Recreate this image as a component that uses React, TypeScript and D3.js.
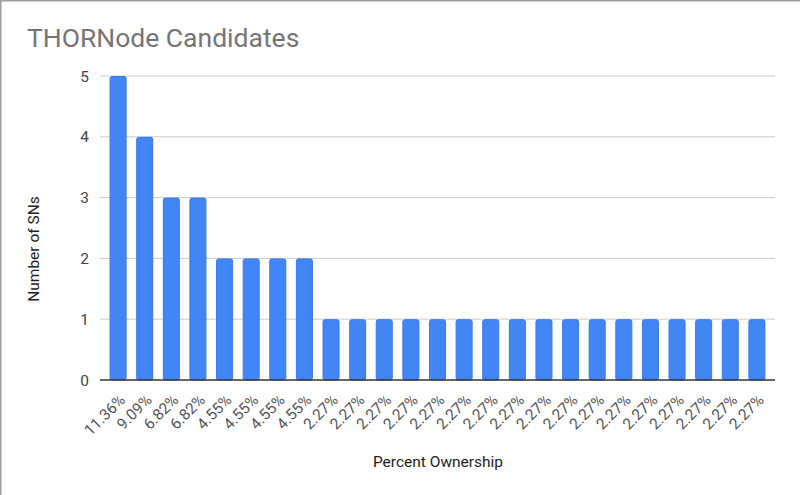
import React, { useEffect, useRef } from 'react';
import * as d3 from 'd3';

const labels = [
  '11.36%', '9.09%', '6.82%', '6.82%', '4.55%', '4.55%', '4.55%', '4.55%',
  '2.27%', '2.27%', '2.27%', '2.27%', '2.27%', '2.27%', '2.27%', '2.27%',
  '2.27%', '2.27%', '2.27%', '2.27%', '2.27%', '2.27%', '2.27%', '2.27%', '2.27%',
];
const counts = [5, 4, 3, 3, 2, 2, 2, 2, 1, 1, 1, 1, 1, 1, 1, 1, 1, 1, 1, 1, 1, 1, 1, 1, 1];
const yTicks = [0, 1, 2, 3, 4, 5];

const width = 800;
const height = 495;
const margin = { top: 76, right: 25, bottom: 115, left: 100 };

const App = () => {
  const ref = useRef<SVGSVGElement>(null);

  useEffect(() => {
    if (!ref.current) return;
    const svg = d3.select(ref.current);
    svg.selectAll('*').remove();

    const data = labels.map((label, i) => ({ i, label, value: counts[i] }));

    const x = d3
      .scaleBand<number>()
      .domain(data.map((d) => d.i))
      .range([margin.left, width - margin.right])
      .paddingInner(0.36)
      .paddingOuter(0.36);
    const y = d3
      .scaleLinear()
      .domain([0, 5])
      .range([height - margin.bottom, margin.top]);

    // frame (only top and left edges show in the crop)
    svg
      .append('path')
      .attr('d', `M0.75,${height}V0.75H${width}`)
      .attr('fill', 'none')
      .attr('stroke', '#9e9e9e')
      .attr('stroke-width', 1.5);

    svg
      .append('text')
      .attr('x', 27)
      .attr('y', 47)
      .attr('font-family', 'Roboto')
      .attr('font-size', 26.5)
      .attr('fill', '#757575')
      .text('THORNode Candidates');

    // grid + y labels
    svg
      .append('g')
      .selectAll('line')
      .data(yTicks.filter((t) => t > 0))
      .join('line')
      .attr('x1', margin.left)
      .attr('x2', width - margin.right)
      .attr('y1', (d) => y(d))
      .attr('y2', (d) => y(d))
      .attr('stroke', '#cccccc')
      .attr('stroke-width', 1);

    svg
      .append('g')
      .attr('font-family', 'Roboto')
      .attr('font-size', 15.5)
      .attr('fill', '#444444')
      .attr('text-anchor', 'end')
      .selectAll('text')
      .data(yTicks)
      .join('text')
      .attr('x', 89)
      .attr('y', (d) => y(d))
      .attr('dy', '0.36em')
      .text((d) => d);

    // bars
    svg
      .append('g')
      .selectAll('rect')
      .data(data)
      .join('rect')
      .attr('x', (d) => x(d.i)! + 0.5)
      .attr('y', (d) => y(d.value) + 0.5)
      .attr('width', x.bandwidth() - 1)
      .attr('height', (d) => y(0) - y(d.value) - 0.5)
      .attr('rx', 2)
      .attr('fill', '#4285f4')
      .attr('stroke', '#3a7ae8')
      .attr('stroke-width', 1);

    // baseline
    svg
      .append('line')
      .attr('x1', margin.left)
      .attr('x2', width - margin.right)
      .attr('y1', y(0))
      .attr('y2', y(0))
      .attr('stroke', '#333333')
      .attr('stroke-width', 1.5);

    // x tick labels
    svg
      .append('g')
      .attr('font-family', 'Roboto')
      .attr('font-size', 15.5)
      .attr('fill', '#555555')
      .attr('text-anchor', 'end')
      .selectAll('text')
      .data(data)
      .join('text')
      .attr(
        'transform',
        (d) => `translate(${x(d.i)! + x.bandwidth() / 2 + 8},${y(0) + 21}) rotate(-45)`,
      )
      .text((d) => d.label);

    svg
      .append('text')
      .attr('x', 438)
      .attr('y', 467)
      .attr('text-anchor', 'middle')
      .attr('font-family', 'Roboto')
      .attr('font-size', 15.5)
      .attr('fill', '#222222')
      .text('Percent Ownership');

    svg
      .append('text')
      .attr('transform', `translate(38.5,249) rotate(-90)`)
      .attr('text-anchor', 'middle')
      .attr('font-family', 'Roboto')
      .attr('font-size', 15.5)
      .attr('fill', '#222222')
      .text('Number of SNs');
  }, []);

  return (
    <svg
      ref={ref}
      width={width}
      height={height}
      style={{ position: 'absolute', left: 0, top: 0, background: '#ffffff' }}
    />
  );
};

export default App;
